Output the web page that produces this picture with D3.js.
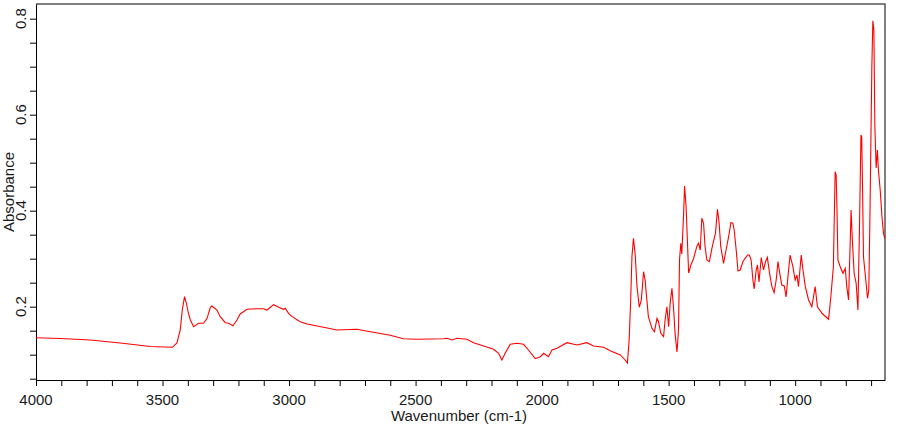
<!DOCTYPE html>
<html lang="en">
<head>
<meta charset="utf-8">
<title>IR spectrum</title>
<script src="https://d3js.org/d3.v7.min.js"></script>
<style>
  body { margin: 0; background: #fff; }
  text { font-family: Arial, "Liberation Sans", sans-serif; fill: #1a1a1a; }
</style>
</head>
<body>
<script>
// spectrum: [wavenumber (cm-1), absorbance]
var spectrum = [
  [4000,0.1354],[3904,0.1338],[3785,0.1306],[3667,0.1244],[3548,0.1171],[3461,0.1154],
  [3443,0.1244],[3430,0.1515],[3422,0.1931],[3413,0.2208],[3406,0.2077],[3398,0.1869],
  [3390,0.1723],[3377,0.1583],[3358,0.1654],[3338,0.1654],[3324,0.1758],[3311,0.1988],
  [3305,0.2015],[3285,0.1931],[3272,0.1792],[3252,0.1667],[3239,0.1654],[3222,0.1604],
  [3206,0.1723],[3193,0.1848],[3166,0.1946],[3127,0.1958],[3101,0.1958],[3087,0.1931],
  [3061,0.2042],[3041,0.1988],[3022,0.1946],[3015,0.1967],[3002,0.1863],[2988,0.1792],
  [2956,0.1688],[2929,0.1640],[2864,0.1571],[2811,0.1515],[2732,0.1529],[2679,0.1479],
  [2600,0.1404],[2548,0.1333],[2495,0.1321],[2390,0.1333],[2376,0.1342],[2356,0.1306],
  [2337,0.1342],[2297,0.1321],[2271,0.1250],[2231,0.1181],[2192,0.1113],[2172,0.1029],
  [2159,0.0890],[2146,0.1029],[2126,0.1217],[2100,0.1238],[2073,0.1217],[2054,0.1098],
  [2027,0.0917],[2007,0.0958],[1994,0.1029],[1975,0.0958],[1961,0.1098],[1941,0.1133],
  [1902,0.1250],[1862,0.1202],[1823,0.1250],[1797,0.1181],[1757,0.1154],[1731,0.1083],
  [1691,0.0994],[1672,0.0890],[1663,0.0827],[1656,0.1306],[1650,0.2140],[1645,0.3042],
  [1639,0.3425],[1632,0.3077],[1625,0.2417],[1616,0.1988],[1608,0.2140],[1599,0.2729],
  [1593,0.2556],[1586,0.2140],[1580,0.1792],[1566,0.1550],[1556,0.1479],[1546,0.1758],
  [1540,0.1688],[1531,0.1446],[1520,0.1375],[1514,0.1723],[1507,0.2000],[1500,0.1583],
  [1494,0.2071],[1487,0.2383],[1481,0.2000],[1474,0.1410],[1467,0.1056],[1461,0.1515],
  [1457,0.2973],[1452,0.3321],[1448,0.3098],[1441,0.3910],[1437,0.4515],[1431,0.4083],
  [1425,0.3250],[1421,0.2702],[1412,0.2869],[1402,0.2994],[1388,0.3265],[1382,0.3321],
  [1375,0.3181],[1369,0.3842],[1362,0.3738],[1356,0.3250],[1349,0.2973],[1339,0.2938],
  [1329,0.3217],[1323,0.3354],[1315,0.3529],[1307,0.4029],[1301,0.3771],[1294,0.3250],
  [1283,0.2904],[1273,0.3181],[1263,0.3458],[1254,0.3750],[1246,0.3738],[1241,0.3598],
  [1233,0.3181],[1226,0.2744],[1217,0.2765],[1207,0.2931],[1198,0.3008],[1188,0.3077],
  [1181,0.3077],[1174,0.2973],[1167,0.2556],[1162,0.2369],[1154,0.2765],[1149,0.2869],
  [1143,0.2515],[1134,0.3025],[1125,0.2765],[1117,0.2938],[1110,0.3029],[1101,0.2696],
  [1092,0.2417],[1083,0.2292],[1075,0.2556],[1068,0.2938],[1062,0.2729],[1053,0.2452],
  [1043,0.2431],[1036,0.2202],[1026,0.2765],[1020,0.3077],[1009,0.2833],[1000,0.2556],
  [993,0.2660],[987,0.2417],[976,0.3077],[970,0.2800],[960,0.2417],[947,0.2140],
  [934,0.2000],[921,0.2417],[912,0.2000],[894,0.1863],[868,0.1738],[859,0.2208],
  [849,0.2833],[842,0.4813],[838,0.4744],[835,0.4083],[831,0.2973],[822,0.2833],
  [811,0.2696],[802,0.2800],[796,0.2417],[789,0.2140],[783,0.3250],[779,0.4015],
  [774,0.3390],[767,0.2696],[759,0.2488],[752,0.1931],[746,0.3598],[740,0.5577],
  [737,0.5535],[734,0.4571],[730,0.3042],[721,0.2556],[714,0.2175],[709,0.2348],
  [704,0.4083],[697,0.7000],[693,0.7958],[689,0.7765],[685,0.5750],[680,0.4890],
  [675,0.5265],[671,0.4848],[664,0.4431],[657,0.3875],[651,0.3529],[646,0.3425]
];

var xTicks = d3.range(4000, 699, -100);      // minor ticks every 100
var xLabels = [4000, 3500, 3000, 2500, 2000, 1500, 1000];
var yTicks = d3.range(0.05, 0.801, 0.05);
var yLabels = [0.2, 0.4, 0.6, 0.8];

var W = 910, H = 425;
var plotL = 36, plotR = 885, plotT = 4, plotB = 380;

var svg = d3.select("body").append("svg")
  .attr("width", W).attr("height", H);

svg.append("rect").attr("width", W).attr("height", H).attr("fill", "#fff");

var x = d3.scaleLinear().domain([4000, 645]).range([plotL, plotR]);
var y = d3.scaleLinear().domain([0.0473, 0.8306]).range([plotB, plotT]);

// frame: top/right grey, axes black
svg.append("path")
  .attr("d", "M" + plotL + "," + plotT + "H" + plotR + "V" + plotB)
  .attr("fill", "none").attr("stroke", "#555").attr("stroke-width", 1.5);

// x axis
var xAxis = d3.axisBottom(x)
  .tickValues(xTicks)
  .tickSize(6)
  .tickSizeOuter(0)
  .tickFormat("");
var gx = svg.append("g")
  .attr("transform", "translate(0," + plotB + ")")
  .call(xAxis);
gx.select(".domain").attr("stroke", "#000");
gx.selectAll(".tick line").attr("stroke", "#000");

svg.selectAll(".xlab").data(xLabels).enter().append("text")
  .attr("class", "xlab")
  .attr("x", function(d) { return x(d); })
  .attr("y", 405)
  .attr("text-anchor", "middle")
  .attr("font-size", 15)
  .text(function(d) { return d; });

// y axis
var yAxis = d3.axisLeft(y)
  .tickValues(yTicks)
  .tickSize(6)
  .tickSizeOuter(0)
  .tickFormat("");
var gy = svg.append("g")
  .attr("transform", "translate(" + plotL + ",0)")
  .call(yAxis);
gy.select(".domain").attr("stroke", "#000");
gy.selectAll(".tick line").attr("stroke", "#000");

svg.selectAll(".ylab").data(yLabels).enter().append("text")
  .attr("class", "ylab")
  .attr("transform", function(d) { return "translate(26," + y(d) + ") rotate(-90)"; })
  .attr("text-anchor", "middle")
  .attr("font-size", 15)
  .text(function(d) { return d.toFixed(1); });

// axis titles
svg.append("text")
  .attr("x", 459).attr("y", 421)
  .attr("text-anchor", "middle")
  .attr("font-size", 15)
  .text("Wavenumber (cm-1)");

svg.append("text")
  .attr("transform", "translate(14,192) rotate(-90)")
  .attr("text-anchor", "middle")
  .attr("font-size", 15)
  .text("Absorbance");

// the spectrum
var line = d3.line()
  .x(function(d) { return x(d[0]); })
  .y(function(d) { return y(d[1]); });

svg.append("path")
  .datum(spectrum)
  .attr("d", line)
  .attr("fill", "none")
  .attr("stroke", "#ff0000")
  .attr("stroke-width", 1.1);
</script>
</body>
</html>
